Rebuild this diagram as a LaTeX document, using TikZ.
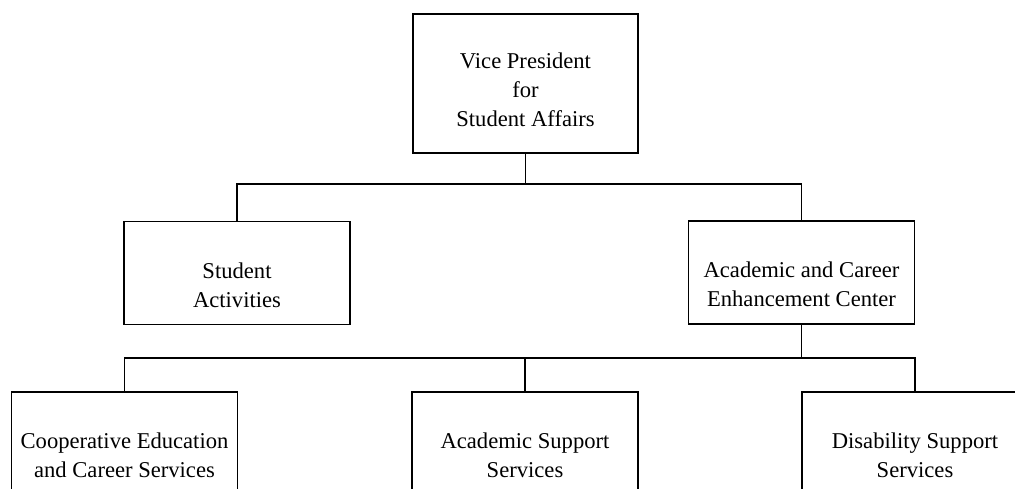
\documentclass[tikz,border=0pt]{standalone}
\usepackage{fontspec}
\setmainfont{Liberation Serif}
\begin{document}
\begin{tikzpicture}[x=1pt,y=1pt,
  box/.style={draw,line width=1.8pt,minimum width=226pt,minimum height=103pt,inner sep=0pt},
  lbl/.style={align=center,inner sep=0pt,font=\fontsize{22.6}{29}\selectfont},
  link/.style={line width=1.8pt}]
\useasboundingbox (0,0) rectangle (1015,-488);
% boxes
\node[box,minimum width=225pt,minimum height=139pt] (vp) at (525.5,-83.5) {};
\node[box] (sa) at (237,-273) {};
\node[box] (ac) at (801.5,-272.5) {};
\node[box] (ce) at (124.5,-443.5) {};
\node[box] (as) at (525,-443.5) {};
\node[box] (ds) at (915,-443.5) {};
% labels
\node[lbl] (vpt) at (525.5,-89.5) {Vice President\\for\\Student Affairs};
\node[lbl] (sat) at (237,-285) {Student\\Activities};
\node[lbl] (act) at (801.5,-284.5) {Academic and Career\\Enhancement Center};
\node[lbl] (cet) at (124.5,-455.5) {Cooperative Education\\and Career Services};
\node[lbl] (ast) at (525,-455.5) {Academic Support\\Services};
\node[lbl] (dst) at (915,-455.5) {Disability Support\\Services};
% connectors
\coordinate (bar1) at (0,-184);
\coordinate (bar2) at (0,-358);
\draw[link] (vp.south) -- (vp.south |- bar1);
\draw[link] (sa.north) -- (sa.north |- bar1) -- (ac.north |- bar1) -- (ac.north);
\draw[link] (ac.south) -- (ac.south |- bar2);
\draw[link] (ce.north) -- (ce.north |- bar2) -- (ds.north |- bar2) -- (ds.north);
\draw[link] (as.north) -- (as.north |- bar2);
\end{tikzpicture}
\end{document}
